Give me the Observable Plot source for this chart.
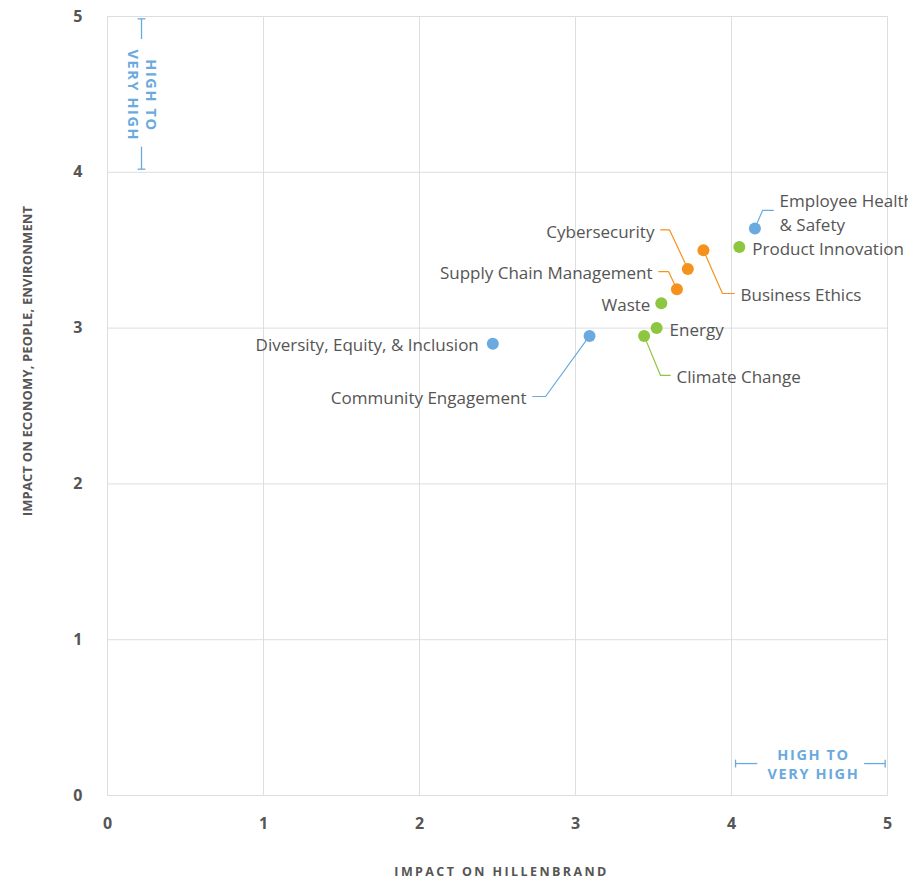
<!DOCTYPE html>
<html><head><meta charset="utf-8">
<script src="https://cdn.jsdelivr.net/npm/d3@7"></script>
<script src="https://cdn.jsdelivr.net/npm/@observablehq/plot@0.6"></script>
<style>
body{margin:0;background:#fff;}
#chart svg{overflow:visible;}
</style></head><body><div id="chart"></div>
<script>
// ---- data ----
const topics = ["Employee Health\n& Safety","Product Innovation","Business Ethics","Cybersecurity","Supply Chain Management","Waste","Energy","Climate Change","Diversity, Equity, & Inclusion","Community Engagement"];
const impactHillenbrand = [4.15,4.05,3.82,3.72,3.65,3.55,3.52,3.44,2.47,3.09];
const impactEconomy     = [3.64,3.52,3.50,3.38,3.25,3.16,3.00,2.95,2.90,2.95];
const pillar = ["social","environment","governance","governance","governance","environment","environment","environment","social","social"];
const xTicks = [0,1,2,3,4,5];
const yTicks = [0,1,2,3,4,5];
const bandLabel = "HIGH TO\nVERY HIGH";
const xTitle = "IMPACT ON HILLENBRAND";
const yTitle = "IMPACT ON ECONOMY, PEOPLE, ENVIRONMENT";

// ---- layout for labels (data units) ----
const labelLayout = [
  {anchor:"start", tx:4.308, ty:3.75, elbow:[4.199,3.755]},
  {anchor:"start", tx:4.133, ty:3.52, elbow:null},
  {anchor:"start", tx:4.058, ty:3.222, elbow:[3.942,3.222]},
  {anchor:"end",   tx:3.506, ty:3.63, elbow:[3.603,3.63]},
  {anchor:"end",   tx:3.494, ty:3.363, elbow:[3.596,3.363]},
  {anchor:"end",   tx:3.48,  ty:3.16, elbow:null},
  {anchor:"start", tx:3.603, ty:3.00, elbow:null},
  {anchor:"start", tx:3.647, ty:2.696, elbow:[3.545,2.696]},
  {anchor:"end",   tx:2.38,  ty:2.90, elbow:null},
  {anchor:"end",   tx:2.686, ty:2.561, elbow:[2.808,2.561]}
];
const colors = {social:"#6aaade", governance:"#f5921e", environment:"#8dc63f"};
const blue = "#6aaade";
const textColor = "#555";
const font = "'Open Sans', Lato, sans-serif";

const points = topics.map((t,i)=>({topic:t, x:impactHillenbrand[i], y:impactEconomy[i], pillar:pillar[i], ...labelLayout[i]}));
const gap = 0.04;
const connectors = [];
points.forEach(p=>{
  if(!p.elbow) return;
  const hx = p.anchor==="start" ? p.tx - gap : p.tx + gap;
  connectors.push({id:p.topic, pillar:p.pillar, x:p.x, y:p.y});
  connectors.push({id:p.topic, pillar:p.pillar, x:p.elbow[0], y:p.elbow[1]});
  connectors.push({id:p.topic, pillar:p.pillar, x:hx, y:p.elbow[1]});
});

// bracket annotations (data units)
const vx = 0.218, hy = 0.205, cap = 0.025;
const bracketSegs = [
  {x1:vx, y1:4.985, x2:vx, y2:4.855}, {x1:vx, y1:4.165, x2:vx, y2:4.02},
  {x1:vx-cap, y1:4.985, x2:vx+cap, y2:4.985}, {x1:vx-cap, y1:4.02, x2:vx+cap, y2:4.02},
  {x1:4.026, y1:hy, x2:4.165, y2:hy}, {x1:4.85, y1:hy, x2:4.985, y2:hy},
  {x1:4.026, y1:hy-cap, x2:4.026, y2:hy+cap}, {x1:4.985, y1:hy-cap, x2:4.985, y2:hy+cap}
];

const chart = Plot.plot({
  width: 908, height: 884,
  marginLeft: 107, marginRight: 21, marginTop: 16, marginBottom: 89,
  style: {fontFamily: font, color: textColor, background: "#fff"},
  x: {domain:[0,5], label:null},
  y: {domain:[0,5], label:null},
  marks: [
    Plot.gridX(xTicks, {stroke:"#dedede", strokeOpacity:1}),
    Plot.gridY(yTicks, {stroke:"#dedede", strokeOpacity:1}),
    Plot.frame({stroke:"#dedede"}),
    Plot.axisX(xTicks, {tickSize:0, tickPadding:22, fontSize:16, fontWeight:"bold", fill:"#555", label:null, tickFormat:d=>d}),
    Plot.axisY(yTicks, {tickSize:0, tickPadding:25, fontSize:16, fontWeight:"bold", fill:"#555", label:null, tickFormat:d=>d}),
    Plot.link(bracketSegs, {x1:"x1", y1:"y1", x2:"x2", y2:"y2", stroke:blue, strokeWidth:1.3}),
    Plot.text([bandLabel], {x:vx, y:4.5, rotate:90, dx:1, dy:1, fill:blue, fontSize:14.5, fontWeight:"bold", lineHeight:1.25, textAnchor:"middle", lineAnchor:"middle"}),
    Plot.text([bandLabel], {x:4.5, y:hy, dx:4, fill:blue, fontSize:14.5, fontWeight:"bold", lineHeight:1.3, textAnchor:"middle", lineAnchor:"middle"}),
    Plot.line(connectors, {x:"x", y:"y", z:"id", stroke:d=>colors[d.pillar], strokeWidth:1.2}),
    Plot.dot(points, {x:"x", y:"y", r:6, fill:d=>colors[d.pillar], stroke:null}),
    Plot.text(points.filter(p=>p.anchor==="start"), {x:"tx", y:"ty", text:"topic", textAnchor:"start", lineAnchor:"middle", lineHeight:1.41, fontSize:17, fill:textColor}),
    Plot.text(points.filter(p=>p.anchor==="end"), {x:"tx", y:"ty", text:"topic", textAnchor:"end", lineAnchor:"middle", lineHeight:1.41, fontSize:17, fill:textColor}),
    Plot.text([xTitle], {frameAnchor:"bottom", textAnchor:"middle", dx:4, dy:80, fontSize:12.5, fontWeight:"bold", fill:textColor}),
    Plot.text([yTitle], {frameAnchor:"left", textAnchor:"middle", rotate:-90, dx:-80, dy:-45, fontSize:13, fontWeight:"bold", fill:textColor})
  ]
});
// letter spacing for the title-style texts
d3.select(chart).selectAll("text").each(function(){
  const t = this.textContent;
  if (t === xTitle) this.style.letterSpacing = "2.4px";
  else if (t === yTitle) this.style.letterSpacing = "0.15px";
  else if (t.startsWith("HIGH TO")) this.style.letterSpacing = "1.6px";
});
document.getElementById("chart").appendChild(chart);
</script>
</body></html>
